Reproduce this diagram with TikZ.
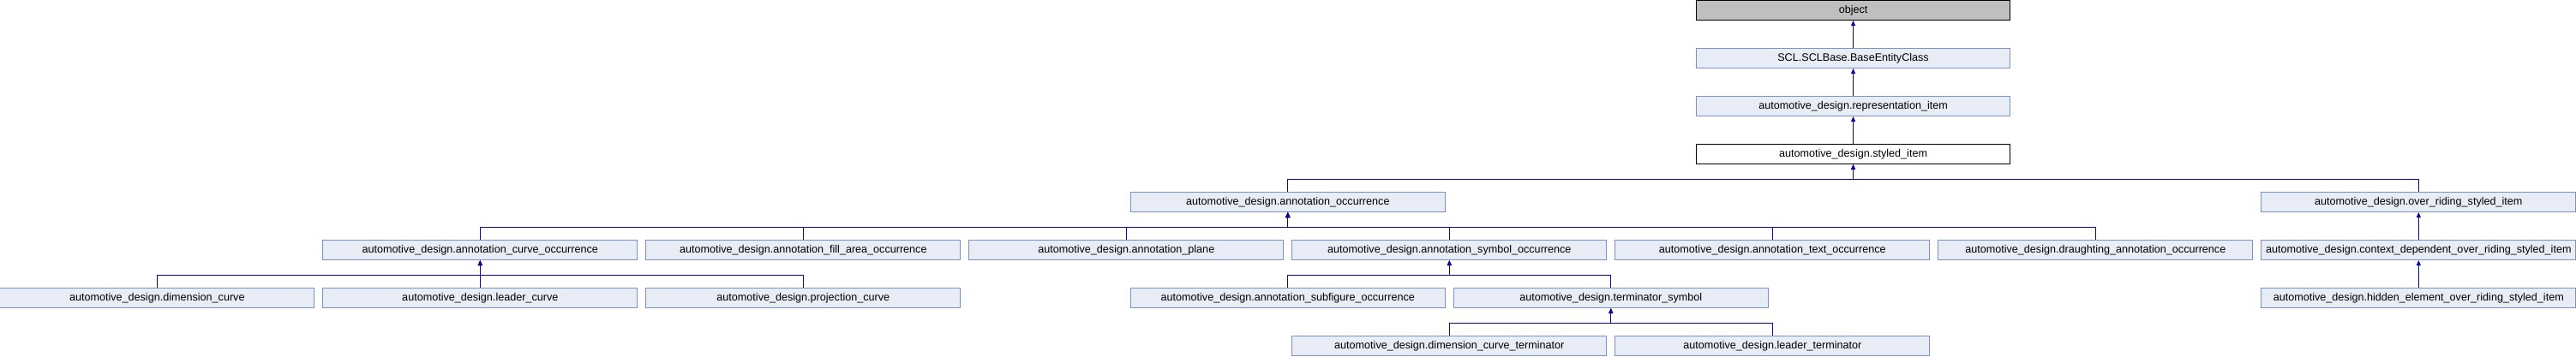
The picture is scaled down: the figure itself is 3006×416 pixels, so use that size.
\documentclass[tikz,border=0pt]{standalone}
\usepackage{fontspec}
\setmainfont{Liberation Sans}
\usetikzlibrary{arrows.meta}
\definecolor{boxfill}{HTML}{E8ECF5}
\definecolor{boxline}{HTML}{7B92C9}
\definecolor{linkblue}{HTML}{0A0A96}

\begin{document}
\begin{tikzpicture}[x=1pt, y=-1pt,
    every node/.style={font=\fontsize{12.6}{14}\selectfont},
    cls/.style={draw=boxline, fill=boxfill, line width=1pt, minimum width=366.7pt,
      minimum height=23pt, inner sep=0pt, anchor=center},
    link/.style={draw=linkblue, line width=1pt, {Triangle[width=5pt,length=6pt]}-}]
  \useasboundingbox (0,0) rectangle (3006,416);
  % base chain
  \node[cls, fill={rgb,255:red,191;green,191;blue,191}, draw=black] (object) at ({377*5.25+183.3},12) {object};
  \node[cls] (scl) at ({377*5.25+183.3},68) {SCL.SCLBase.BaseEntityClass};
  \node[cls] (repitem) at ({377*5.25+183.3},124) {automotive\_design.representation\_item};
  \node[cls, fill=white, draw=black] (styled) at ({377*5.25+183.3},180) {automotive\_design.styled\_item};
  % derived classes: column/row/name/text
  \foreach \c/\r/\n/\t in {3.5/4/annocc/annotation\_occurrence,
      7/4/overriding/over\_riding\_styled\_item,
      1/5/curveocc/annotation\_curve\_occurrence,
      2/5/fillocc/annotation\_fill\_area\_occurrence,
      3/5/plane/annotation\_plane,
      4/5/symbolocc/annotation\_symbol\_occurrence,
      5/5/textocc/annotation\_text\_occurrence,
      6/5/draughting/draughting\_annotation\_occurrence,
      7/5/contextdep/context\_dependent\_over\_riding\_styled\_item,
      0/6/dimcurve/dimension\_curve,
      1/6/leadercurve/leader\_curve,
      2/6/projcurve/projection\_curve,
      3.5/6/subfigure/annotation\_subfigure\_occurrence,
      4.5/6/termsym/terminator\_symbol,
      7/6/hidden/hidden\_element\_over\_riding\_styled\_item,
      4/7/dimterm/dimension\_curve\_terminator,
      5/7/leaderterm/leader\_terminator}
    \node[cls] (\n) at ({377*\c+183.3},{56*\r+12}) {automotive\_design.\t};
  % inheritance links
  \foreach \p/\k in {object/scl, scl/repitem, repitem/styled,
      styled/annocc, styled/overriding,
      annocc/curveocc, annocc/fillocc, annocc/plane, annocc/symbolocc,
      annocc/textocc, annocc/draughting,
      overriding/contextdep, contextdep/hidden,
      curveocc/dimcurve, curveocc/leadercurve, curveocc/projcurve,
      symbolocc/subfigure, symbolocc/termsym,
      termsym/dimterm, termsym/leaderterm}
    \draw[link] (\p.south) -- ++(0,17) -| (\k.north);
\end{tikzpicture}
\end{document}
